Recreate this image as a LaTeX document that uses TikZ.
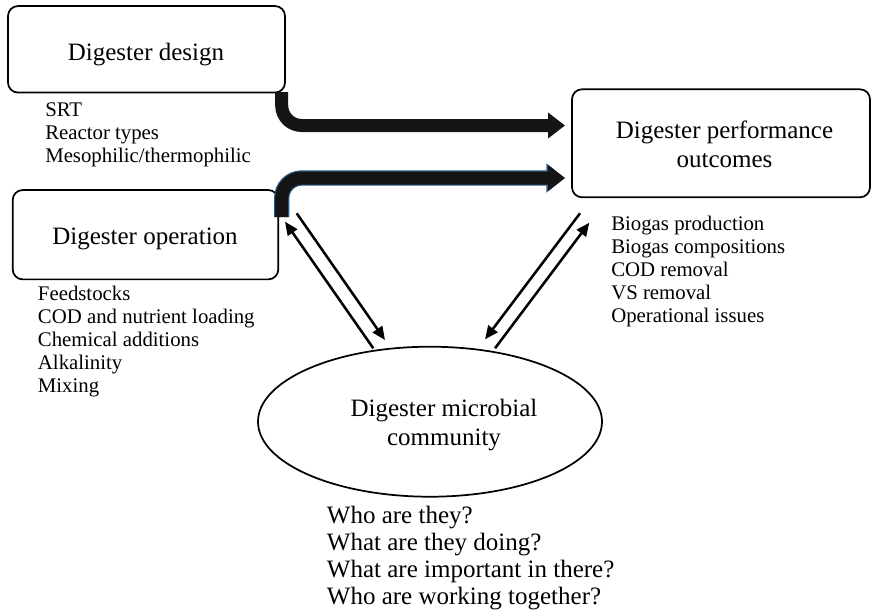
\documentclass[tikz,border=0pt]{standalone}
\usepackage{fontspec}
\setmainfont{Liberation Serif}
\usetikzlibrary{arrows.meta,shapes.geometric}
\definecolor{edgeblue}{HTML}{2E5C8A}
\definecolor{shaft}{HTML}{151515}
\begin{document}
\begin{tikzpicture}[x=0.75pt,y=-0.75pt,
  box/.style={draw, line width=1.3pt, rounded corners=7.5pt, inner sep=0},
  big/.style={font=\fontsize{18.75}{21.75}\selectfont, align=center, inner sep=0, anchor=base},
  lst/.style={font=\fontsize{15.6}{17.25}\selectfont, align=left, inner sep=0, anchor=base west},
  qst/.style={font=\fontsize{18.75}{20.25}\selectfont, align=left, inner sep=0, anchor=base west},
  thinarrow/.style={line width=1.9pt, -{Triangle[length=10pt,width=8.5pt]}},
  fatarrow/.style={draw=shaft, line width=9.75pt, rounded corners=15pt, -{Triangle[length=12.75pt,width=18.75pt]}},
  fatunder/.style={draw=edgeblue, line width=11.5pt, rounded corners=15pt, -{Triangle[length=14pt,width=21pt]}},
]
\useasboundingbox (0,0) rectangle (873,615);

% boxes
\node[box, minimum width=207.75pt, minimum height=64.9pt] (design) at (146.5,49.3) {};
\node[big] (designtxt) at (146,60) {Digester design};

\node[box, minimum width=199.2pt, minimum height=67pt] (oper) at (145.5,234.7) {};
\node[big] (opertxt) at (145,244.3) {Digester operation};

\node[box, minimum width=223.5pt, minimum height=81pt] (perf) at (721,143.3) {};
\node[big] (perftxt) at (724.5,167) {Digester performance\\outcomes};

\node[draw, ellipse, line width=1.3pt, minimum width=258pt, minimum height=112.5pt, inner sep=0] (micro) at (430,421.7) {};
\node[big] (microtxt) at (444,445) {Digester microbial\\community};

% lists (anchor = baseline of last line)
\node[lst] (designlist) at (45,162.7) {SRT\\Reactor types\\Mesophilic/thermophilic};
\node[lst] (operlist) at (37.7,392.7) {Feedstocks\\COD and nutrient loading\\Chemical additions\\Alkalinity\\Mixing};
\node[lst] (perflist) at (611,322.5) {Biogas production\\Biogas compositions\\COD removal\\VS removal\\Operational issues};
\node[qst] (questions) at (326.7,604.5) {Who are they?\\What are they doing?\\What are important in there?\\Who are working together?};

% thick arrows
\coordinate (d1) at (281.7,92);
\coordinate (t1) at (565,125.5);
\coordinate (d2) at (281.7,217);
\coordinate (t2) at (565,178);
\draw[fatarrow] (d1) |- (t1);
\draw[fatunder] (d2) |- (t2);
\draw[fatarrow] (d2) |- (t2);

% thin arrows
\coordinate (la1) at (373.3,348.3);
\coordinate (la2) at (285,221.7);
\coordinate (lb1) at (296.7,213.3);
\coordinate (lb2) at (385,340);
\coordinate (ra1) at (580,213.3);
\coordinate (ra2) at (485,339.3);
\coordinate (rb1) at (495,348.3);
\coordinate (rb2) at (589.3,222.7);
\draw[thinarrow] (la1) -- (la2);
\draw[thinarrow] (lb1) -- (lb2);
\draw[thinarrow] (ra1) -- (ra2);
\draw[thinarrow] (rb1) -- (rb2);
\end{tikzpicture}
\end{document}
